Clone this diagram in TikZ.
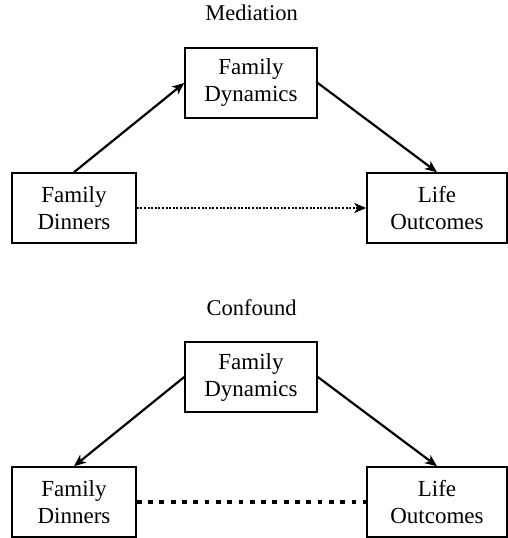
\documentclass[tikz,border=0pt]{standalone}
\usepackage{fontspec}
\setmainfont{Liberation Serif}
\usetikzlibrary{arrows.meta}
\begin{document}
\begin{tikzpicture}[x=1pt,y=-1pt,
  box/.style={draw,line width=1.6pt,minimum height=70pt,inner sep=0pt,
    align=center,font=\fontsize{23}{27}\selectfont},
  title/.style={anchor=base,font=\fontsize{22.5}{26}\selectfont},
  tip/.style={-{Stealth[length=12pt,width=10pt,inset=3.5pt]}},
  link/.style={line width=2.2pt,tip},
  weak/.style={line width=2pt,dash pattern=on 2pt off 1.6pt,tip},
  tie/.style={line width=4.8pt,dash pattern=on 4.8pt off 6.5pt}]
\useasboundingbox (0,0) rectangle (508,538);

% Mediation: dinners act through family dynamics
\node[title] (t1) at (251.5,20) {Mediation};
\node[box,minimum width=132pt] (m1) at (251,83) {Family\\Dynamics};
\node[box,minimum width=124pt] (d1) at (74,208) {Family\\Dinners};
\node[box,minimum width=140pt] (o1) at (437,208) {Life\\Outcomes};
\draw[link] (d1.north) -- (m1.west);
\draw[link] (m1.east) -- (o1.north);
\draw[weak] (d1.east) -- (o1.west);

% Confound: family dynamics drives both
\node[title] (t2) at (251.5,315) {Confound};
\node[box,minimum width=132pt] (m2) at (251,377) {Family\\Dynamics};
\node[box,minimum width=124pt] (d2) at (74,502) {Family\\Dinners};
\node[box,minimum width=140pt] (o2) at (437,502) {Life\\Outcomes};
\draw[link] (m2.west) -- (d2.north);
\draw[link] (m2.east) -- (o2.north);
\draw[tie] (d2.east) -- (o2.west);
\end{tikzpicture}
\end{document}
